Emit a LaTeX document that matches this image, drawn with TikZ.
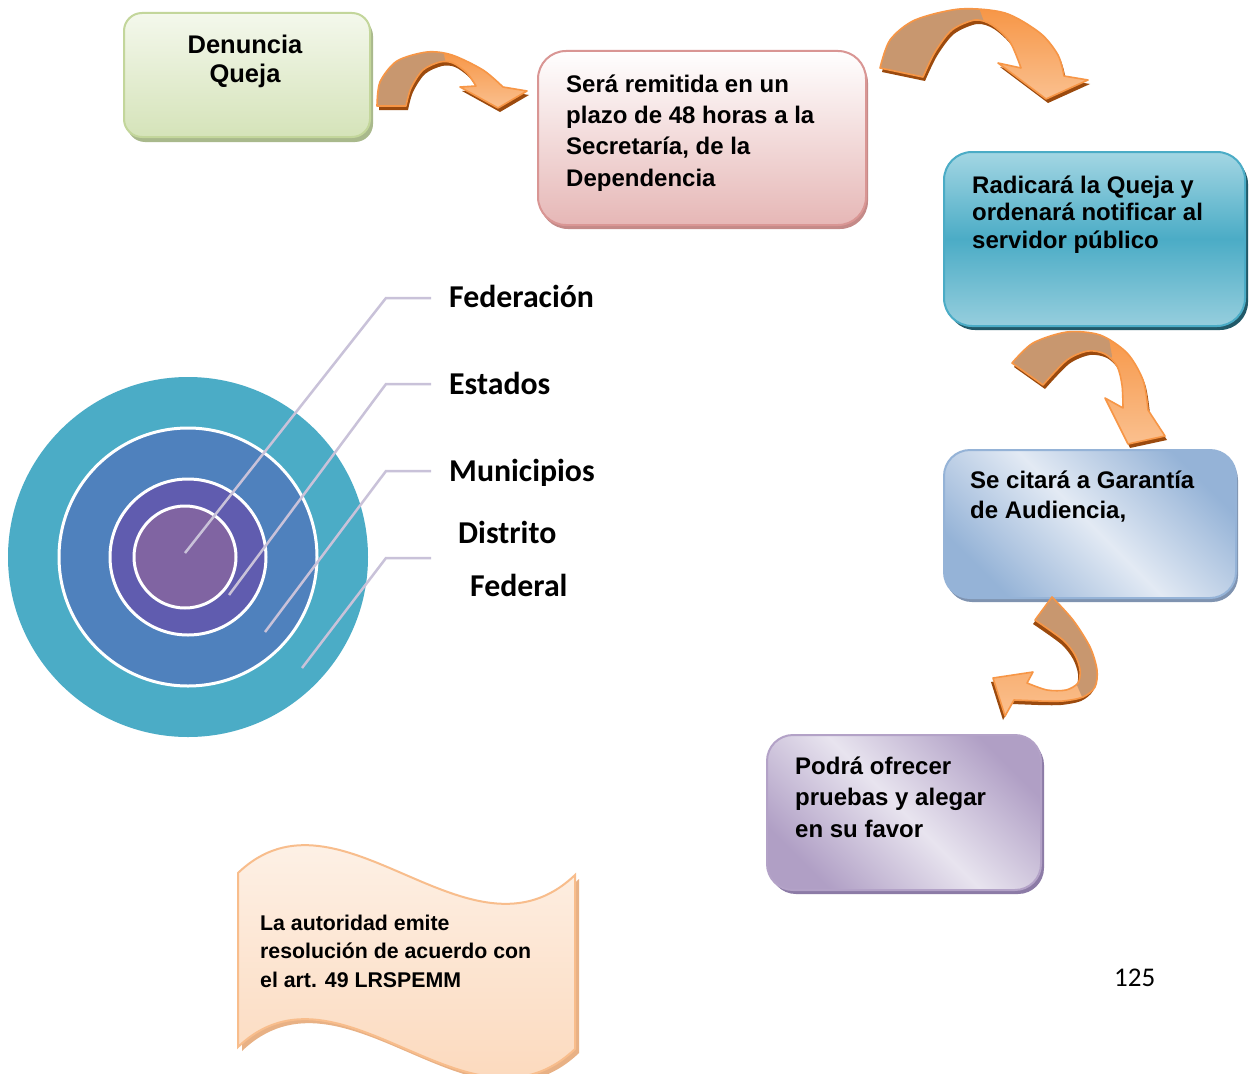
\documentclass[tikz,border=0pt]{standalone}
\usepackage{fontspec}
\newfontfamily\arial{Liberation Sans}
\newfontfamily\carl{Carlito}
\usetikzlibrary{shadows}
\definecolor{tealA}{HTML}{4BACC6}
\definecolor{blueA}{HTML}{4F81BD}
\definecolor{indA}{HTML}{605CAF}
\definecolor{purA}{HTML}{8064A2}
\definecolor{leadc}{HTML}{C9C2D9}
\definecolor{tanc}{HTML}{C8976F}
\definecolor{orc}{HTML}{F79646}
\definecolor{orl}{HTML}{FAC08F}
\definecolor{orsh}{HTML}{9B4A0E}
\definecolor{gBorder}{HTML}{C3D69B}
\definecolor{gTop}{HTML}{F4F8EC}
\definecolor{gBot}{HTML}{D5E3B9}
\definecolor{gSh}{HTML}{A9B98C}
\definecolor{pBorder}{HTML}{D99694}
\definecolor{pBot}{HTML}{E6B7B6}
\definecolor{pSh}{HTML}{C48A88}
\definecolor{tTop}{HTML}{A3D6E3}
\definecolor{tBot}{HTML}{96CEDD}
\definecolor{tSh}{HTML}{215968}
\definecolor{bBorder}{HTML}{95B3D7}
\definecolor{bLight}{HTML}{E3EAF4}
\definecolor{bSh}{HTML}{7F93B0}
\definecolor{vBorder}{HTML}{B3A2C7}
\definecolor{vDark}{HTML}{B09FC5}
\definecolor{vLight}{HTML}{E8E4EF}
\definecolor{vSh}{HTML}{8C7BA6}
\definecolor{wSh}{HTML}{E8B185}
\definecolor{wBorder}{HTML}{F8BD8C}
\definecolor{wTop}{HTML}{FEF7F1}
\definecolor{wBot}{HTML}{FBD3B2}
\newcommand\carrow[3]{%
  \fill[orsh, shift={#3}] #1;
  \fill[top color=orc, bottom color=orl] #1;
  \begin{scope}\clip #1; \fill[tanc] #2; \end{scope}
  \draw[orc, line width=1.6pt, line join=round] #1;
}
\tikzset{
  box/.style={rectangle, anchor=north west, inner sep=0pt, line width=2pt},
  btxt/.style={anchor=base west, align=left, inner sep=0pt, font=\arial\bfseries},
  lbl/.style={anchor=base west, inner sep=0pt, font=\carl\bfseries\fontsize{31.8}{36}\selectfont},
  lead/.style={draw=leadc, line width=2.5pt},
}
\begin{document}
\begin{tikzpicture}[x=1pt,y=-1pt]
\useasboundingbox (0,0) rectangle (1252,1073);
\fill[white] (0,0) rectangle (1252,1073);

% ---- boxes
\node[box, rounded corners=18pt, minimum width=246pt, minimum height=124pt,
  draw=gBorder, top color=gTop, bottom color=gBot,
  general shadow={fill=gSh, shadow xshift=3pt, shadow yshift=-5pt}] (b1) at (123,12) {};
\node[box, rounded corners=28pt, minimum width=328pt, minimum height=174pt,
  draw=pBorder, top color=white, bottom color=pBot,
  general shadow={fill=pSh, shadow xshift=2pt, shadow yshift=-4pt}] (b2) at (537,50) {};
\node[box, rounded corners=28pt, minimum width=301pt, minimum height=174pt,
  draw=tealA, top color=tTop, bottom color=tBot, middle color=tealA,
  general shadow={fill=tSh, shadow xshift=3pt, shadow yshift=-4pt}] (b3) at (943,151) {};
\node[box, rounded corners=26pt, minimum width=292pt, minimum height=148pt,
  draw=bBorder, left color=bBorder, right color=bBorder, middle color=bLight, shading angle=-45,
  general shadow={fill=bSh, shadow xshift=2pt, shadow yshift=-4pt}] (b4) at (943,449) {};
\node[box, rounded corners=26pt, minimum width=274pt, minimum height=155pt,
  draw=vBorder, left color=vDark, right color=vDark, middle color=vLight, shading angle=-45,
  general shadow={fill=vSh, shadow xshift=3pt, shadow yshift=-4pt}] (b5) at (766,734) {};

% ---- box texts (anchor = baseline of the last line)
\node[btxt, anchor=base, align=center, font=\arial\bfseries\fontsize{25.5}{29}\selectfont] (t1) at (245,82) {Denuncia\\Queja};
\node[btxt, font=\arial\bfseries\fontsize{24}{31.3}\selectfont] (t2) at (566,186) {Será remitida en un\\plazo de 48 horas a la\\Secretaría, de la\\Dependencia};
\node[btxt, font=\arial\bfseries\fontsize{24}{27.5}\selectfont] (t3) at (972,248) {Radicará la Queja y\\ordenará notificar al\\servidor público};
\node[btxt, font=\arial\bfseries\fontsize{24}{30}\selectfont] (t4) at (970,518) {Se citará a Garantía\\de Audiencia,};
\node[btxt, font=\arial\bfseries\fontsize{24}{31.5}\selectfont] (t5) at (795,837) {Podrá ofrecer\\pruebas y alegar\\en su favor};

% ---- wave
\fill[wSh, shift={(4,4)}] (238,873) .. controls (340,775) and (470,975) .. (575,875) -- (575,1049) .. controls (470,1149) and (340,949) .. (238,1047) -- cycle;
\path[draw=wBorder, line width=2pt, top color=wTop, bottom color=wBot]
  (238,873) .. controls (340,775) and (470,975) .. (575,875) -- (575,1049) .. controls (470,1149) and (340,949) .. (238,1047) -- cycle;
\node[btxt, font=\arial\bfseries\fontsize{21.3}{28.5}\selectfont] (t6) at (260,987) {La autoridad emite\\resolución de acuerdo con\\el art. 49 LRSPEMM};

% ---- page number
\node[anchor=base west, inner sep=0pt, font=\carl\fontsize{27}{30}\selectfont] (pg) at (1114,986) {125};

% ---- concentric circles
\fill[tealA] (188,557) circle[radius=180pt];
\draw[white, line width=3pt, fill=blueA] (188,557) circle[radius=129pt];
\draw[white, line width=3pt, fill=indA] (188,557) circle[radius=78pt];
\draw[white, line width=3pt, fill=purA] (185,557) circle[radius=51pt];

% ---- leader lines and labels
\coordinate (l1a) at (185,553); \coordinate (l1b) at (386,298); \coordinate (l1c) at (431,298);
\coordinate (l2a) at (229,595); \coordinate (l2b) at (386,384); \coordinate (l2c) at (431,384);
\coordinate (l3a) at (265,632); \coordinate (l3b) at (386,471); \coordinate (l3c) at (431,471);
\coordinate (l4a) at (302,668); \coordinate (l4b) at (386,558); \coordinate (l4c) at (431,558);
\draw[lead] (l1a) -- (l1b) -- (l1c);
\draw[lead] (l2a) -- (l2b) -- (l2c);
\draw[lead] (l3a) -- (l3b) -- (l3c);
\draw[lead] (l4a) -- (l4b) -- (l4c);
\node[lbl] (f1) at (449,307) {Federación};
\node[lbl] (f2) at (449,394) {Estados};
\node[lbl] (f3) at (449,481) {Municipios};
\node[lbl] (f4) at (458,543) {Distrito};
\node[lbl] (f5) at (470,596) {Federal};

% ---- curved arrows
\carrow{plot[smooth] coordinates {(377,106) (380,82) (397,61) (427,52) (452,55) (483,70) (503,87)} -- (527,91) -- (498,108) -- (460,87) -- plot[smooth] coordinates {(476,86) (467,73) (453,63) (440,62) (423,70) (411,88) (406,106)} -- cycle}
  {(360,30) -- (438,30) -- (448,72) -- (448,120) -- (360,120) -- cycle}{(2,4)}
\carrow{plot[smooth] coordinates {(880,68) (890,40) (915,20) (960,9) (1005,13) (1040,33) (1058,55) (1064,76)} -- (1088,80) -- (1046,99) -- (998,63) -- plot[smooth] coordinates {(1021,68) (1010,42) (992,25) (975,20) (952,30) (935,52) (923,77)} -- cycle}
  {(860,0) -- (976,0) -- (987,30) -- (960,110) -- (860,110) -- cycle}{(2,4)}
\carrow{plot[smooth] coordinates {(1012,363) (1033,343) (1067,332) (1100,335) (1127,353) (1143,380) (1148,410)} -- (1165,436) -- (1128,444) -- (1105,398) -- plot[smooth] coordinates {(1123,408) (1122,385) (1117,366) (1105,354) (1088,351) (1067,360) (1043,385)} -- cycle}
  {(990,300) -- (1102,300) -- (1112,356) -- (1090,420) -- (990,420) -- cycle}{(2,4)}
\carrow{plot[smooth] coordinates {(1052,597) (1073,620) (1090,647) (1097,670) (1095,687) (1083,697) (1063,701) (1040,701)} -- (1014,700) -- (1005,716) -- (993,678) -- (1033,672) -- plot[smooth] coordinates {(1027,683) (1047,690) (1066,690) (1078,683) (1080,670) (1075,655) (1063,640) (1035,620)} -- cycle}
  {(1000,570) -- (1140,570) -- (1140,706) -- (1086,706) -- (1076,683) -- (1000,640) -- cycle}{(-2,4)}
\end{tikzpicture}
\end{document}
